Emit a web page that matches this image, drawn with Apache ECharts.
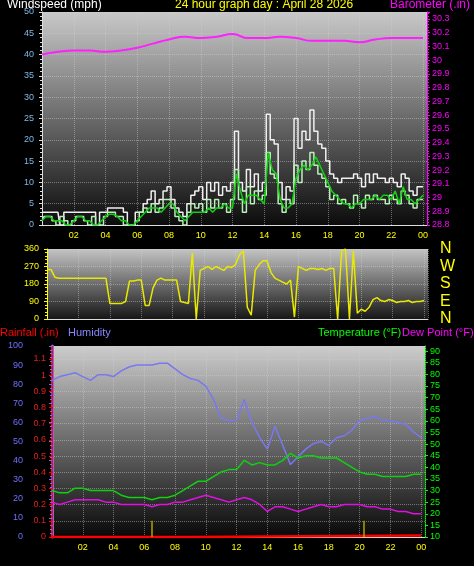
<!DOCTYPE html>
<html><head><meta charset="utf-8">
<script src="https://cdn.jsdelivr.net/npm/echarts@6/dist/echarts.min.js"></script>
<style>html,body{margin:0;background:#000}#c{width:474px;height:566px}</style>
</head><body><div id="c"></div>
<script>
// wind, every 15 minutes from 00:00 to 24:00
var windGust = [3,3,3,3, 3,0,3,3, 3,3,3,3, 3,3,0,3, 3,4,4,4, 4,3,0,0, 3,3,5,6, 8,5,6,8,
  9,6,4,3, 2,5,7,8, 9,6,10,8, 10,7,9,8, 10,22,10,8, 13,9,12,8, 10,26,20,19, 10,6,9,8,
  25,18,22,20, 27,22,19,18, 15,12,11,10, 11,11,11,12, 11,9,12,10, 12,11,11,10, 11,10,9,12, 11,8,7,9, 9];
var windSpeed = [1,2,2,1, 0,2,1,0, 1,2,2,1, 0,2,0,0, 2,3,3,2, 2,0,0,0, 1,3,4,3, 5,3,4,6,
  6,4,2,1, 0,3,5,4, 5,3,6,4, 6,4,5,3, 6,13,6,3, 9,5,8,6, 7,17,12,11, 5,3,6,5,
  14,10,15,13, 17,14,12,11, 9,6,7,5, 6,5,4,7, 5,4,7,6, 7,6,6,5, 7,6,5,8, 7,5,4,6, 6];
var windAvg = [1,2,2,1, 1,1,0,0, 1,2,2,1, 1,0,0,1, 2,2.5,2.5,2, 1,1,0,0, 1,2,3,4, 4,4,3,4,
  5,5,3,2, 1,2,3,3, 3,3,4,3, 4,4,5,4, 4,12,8,5, 7,7,7,6, 5,17,13,12, 6,4,4,5,
  11,13,14,13, 14,16,14,12, 10,8,7,6, 5,5,4,5, 5,6,6,6, 7,6,7,7, 6,8,5,9, 6,6,5,6, 7];
var windDir = [255,255,215,210, 210,210,210,210, 210,210,210,210, 210,210,210,210, 80,80,80,80,
  90,195,195,200, 200,70,70,160, 200,210,200,200, 200,200,90,85, 80,340,0,250, 260,270,255,270,
  260,250,270,265, 280,330,350,60, 20,250,280,300, 300,240,210,200, 190,180,200,10,
  270,260,250,260, 260,255,260,250, 260,260,0,350, 360,0,350,30, 50,40,60,100,
  110,95,90,100, 95,85,90,90, 95,85,90,90, 95];
// hourly barometer
var baro = [30.04,30.06,30.07,30.07,30.06,30.07,30.09,30.12,30.15,30.17,30.16,30.17,30.19,
  30.16,30.16,30.17,30.16,30.14,30.14,30.14,30.13,30.15,30.16,30.16,30.16];
// every 30 minutes
var humidity = [82,84,85,86,84,82,85,85,84,87,89,90,90,90,91,91,88,85,83,82,79,72,62,61,61,72,60,52,
  46,58,48,38,42,46,49,50,48,52,53,56,61,62,63,61,61,60,59,55,52];
var temperature = [30,29,29,31,31,30,30,30,30,28,27,27,27,26,27,27,28,30,32,34,34,36,38,39,39,43,41,42,
  41,41,43,46,44,45,45,44,44,44,42,40,38,37,37,36,36,36,36,37,37];
var dewPoint = [25,24,25,26,26,26,26,25,25,24,24,24,24,23,24,24,25,25,26,27,28,27,26,25,26,27,26,24,
  21,23,23,22,21,22,23,24,23,23,24,24,24,23,23,22,22,21,21,20,20];
var rainTimes = [0,9.1,9.2,24];
var rainValues = [0,0,0.01,0.01];
var rainMarks = [6.5,20.3];

function series(arr, step){ return arr.map(function(v,i){ return [i*step, v]; }); }
function pair(t, v){ return t.map(function(x,i){ return [x, v[i]]; }); }
function hourLabel(v){ if (v === 0) return ''; var h = v % 24; return (h < 10 ? '0' : '') + h; }
function grad(a, b){ return new echarts.graphic.LinearGradient(0,0,0,1,[{offset:0,color:a},{offset:1,color:b}]); }

var font = 'Liberation Sans';
var split = {show:true, lineStyle:{color:'rgba(210,210,210,0.45)', type:'dotted'}};
function xAx(i, labels){
  return {type:'value', gridIndex:i, min:0, max:24.25, interval:2,
    axisLine:{lineStyle:{color:'#ddd'}}, axisTick:{show:false}, splitLine:split,
    axisLabel:{show:labels, color:'#ff0', fontSize:9, fontFamily:font, formatter:hourLabel, margin:6}};
}
function yAx(i, o){
  var base = {type:'value', gridIndex:i, position:'left', axisLine:{show:true, lineStyle:{color:'#ddd'}},
    axisTick:{show:true, length:3, lineStyle:{color:'#ddd'}}, minorTick:{show:true, length:2, splitNumber:5},
    splitLine:{show:false}, axisLabel:{fontSize:9, fontFamily:font, margin:5}};
  for (var k in o) base[k] = o[k];
  return base;
}

var chart = echarts.init(document.getElementById('c'));
chart.setOption({
  backgroundColor:'#000',
  animation:false,
  grid:[
    {left:42, right:47, top:12, height:213, show:true, borderWidth:0, backgroundColor:grad('#c8c8c8','#0c0c0c')},
    {left:47, right:46, top:249, height:70, show:true, borderWidth:0, backgroundColor:grad('#c4c4c4','#161616')},
    {left:52, right:49, top:346, height:191, show:true, borderWidth:0, backgroundColor:grad('#cccccc','#080808')}
  ],
  xAxis:[xAx(0,true), xAx(1,false), xAx(2,true)],
  yAxis:[
    yAx(0,{min:0, max:50, interval:5, splitLine:split, axisLabel:{color:'#7fb8e8', fontSize:9, fontFamily:font, margin:8}}),
    yAx(0,{min:28.8, max:30.35, interval:0.1, position:'right', axisLine:{show:true, lineStyle:{color:'#f0f'}},
      axisTick:{show:true, length:3, lineStyle:{color:'#f0f'}},
      axisLabel:{color:'#f0f', fontSize:9, fontFamily:font, margin:5, formatter:function(v){ return +v.toFixed(1); }}}),
    yAx(1,{min:0, max:360, interval:90, splitLine:split, axisLabel:{color:'#ff0', fontSize:9, fontFamily:font, margin:8},
      axisLine:{show:true, lineStyle:{color:'#ff0'}}, axisTick:{show:true, length:3, lineStyle:{color:'#ff0'}}}),
    yAx(1,{min:0, max:360, interval:90, position:'right', axisLine:{show:false}, axisTick:{show:false}, minorTick:{show:false},
      axisLabel:{color:'#ff0', fontSize:16, fontFamily:font, margin:12, formatter:function(v){ return {0:'N',90:'E',180:'S',270:'W',360:'N'}[v]; }}}),
    yAx(2,{min:0, max:100, interval:10, offset:24, axisLine:{show:true, lineStyle:{color:'#7070ff', width:3}},
      axisTick:{show:true, length:3, lineStyle:{color:'#7070ff'}}, axisLabel:{color:'#7070ff', fontSize:9, fontFamily:font, margin:5}}),
    yAx(2,{min:0, max:1.18, interval:0.1, splitLine:split, axisLine:{show:true, lineStyle:{color:'#f00', width:2, type:'dotted'}},
      axisTick:{show:true, length:3, lineStyle:{color:'#f00'}}, minorTick:{show:false},
      axisLabel:{color:'#e02020', fontSize:9, fontFamily:font, margin:6, showMaxLabel:false, formatter:function(v){ return +v.toFixed(1); }}}),
    yAx(2,{min:10, max:92.2, interval:5, position:'right', axisLine:{show:true, lineStyle:{color:'#0f0', type:'dotted'}},
      axisTick:{show:true, length:3, lineStyle:{color:'#0f0'}}, minorTick:{show:false},
      axisLabel:{color:'#0f0', fontSize:9, fontFamily:font, margin:5, showMaxLabel:false}})
  ],
  graphic:[
    {type:'text', left:7, top:-1, style:{text:'Windspeed (mph)', fill:'#fff', font:'12px '+font}},
    {type:'text', left:175, top:-1, style:{text:'24 hour graph day : April 28 2026', fill:'#ff0', font:'12px '+font}},
    {type:'text', right:4, top:-1, style:{text:'Barometer (.in)', fill:'#f0f', font:'12px '+font}},
    {type:'text', left:0, top:327, style:{text:'Rainfall (.in)', fill:'#f00', font:'11px '+font}},
    {type:'text', left:68, top:327, style:{text:'Humidity', fill:'#8888ff', font:'11px '+font}},
    {type:'text', left:318, top:327, style:{text:'Temperature (°F)', fill:'#0f0', font:'11px '+font}},
    {type:'text', left:402, top:327, style:{text:'Dew Point (°F)', fill:'#f0f', font:'11px '+font}}
  ],
  series:[
    {type:'line', name:'Gust', xAxisIndex:0, yAxisIndex:0, data:series(windGust,0.25), step:'middle', symbol:'none', lineStyle:{color:'#f0f0f0', width:1.5}},
    {type:'line', name:'Speed', xAxisIndex:0, yAxisIndex:0, data:series(windSpeed,0.25), step:'middle', symbol:'none', lineStyle:{color:'#b8f0b8', width:1.5}},
    {type:'line', name:'Average', xAxisIndex:0, yAxisIndex:0, data:series(windAvg,0.25), symbol:'none', lineStyle:{color:'#10d010', width:1.5}},
    {type:'line', name:'Barometer', xAxisIndex:0, yAxisIndex:1, data:series(baro,1), smooth:true, symbol:'none', lineStyle:{color:'#ff20ff', width:2}},
    {type:'line', name:'Direction', xAxisIndex:1, yAxisIndex:2, data:series(windDir,0.25), symbol:'none', lineStyle:{color:'#e8e800', width:1.5}},
    {type:'line', name:'Humidity', xAxisIndex:2, yAxisIndex:4, data:series(humidity,0.5), symbol:'none', lineStyle:{color:'#7878f0', width:1.5}},
    {type:'line', name:'Temperature', xAxisIndex:2, yAxisIndex:6, data:series(temperature,0.5), symbol:'none', lineStyle:{color:'#10d010', width:1.5}},
    {type:'line', name:'Dew Point', xAxisIndex:2, yAxisIndex:6, data:series(dewPoint,0.5), symbol:'none', lineStyle:{color:'#e010e0', width:1.5}},
    {type:'line', name:'Rainfall', xAxisIndex:2, yAxisIndex:5, data:pair(rainTimes,rainValues), symbol:'none', lineStyle:{color:'#f00', width:2.5},
      markLine:{symbol:'none', silent:true, label:{show:false}, lineStyle:{color:'#b0a000', width:1.5, type:'solid'},
        data:rainMarks.map(function(t){ return [{coord:[t,0]},{coord:[t,0.1]}]; })}}
  ]
});
</script>
</body></html>
